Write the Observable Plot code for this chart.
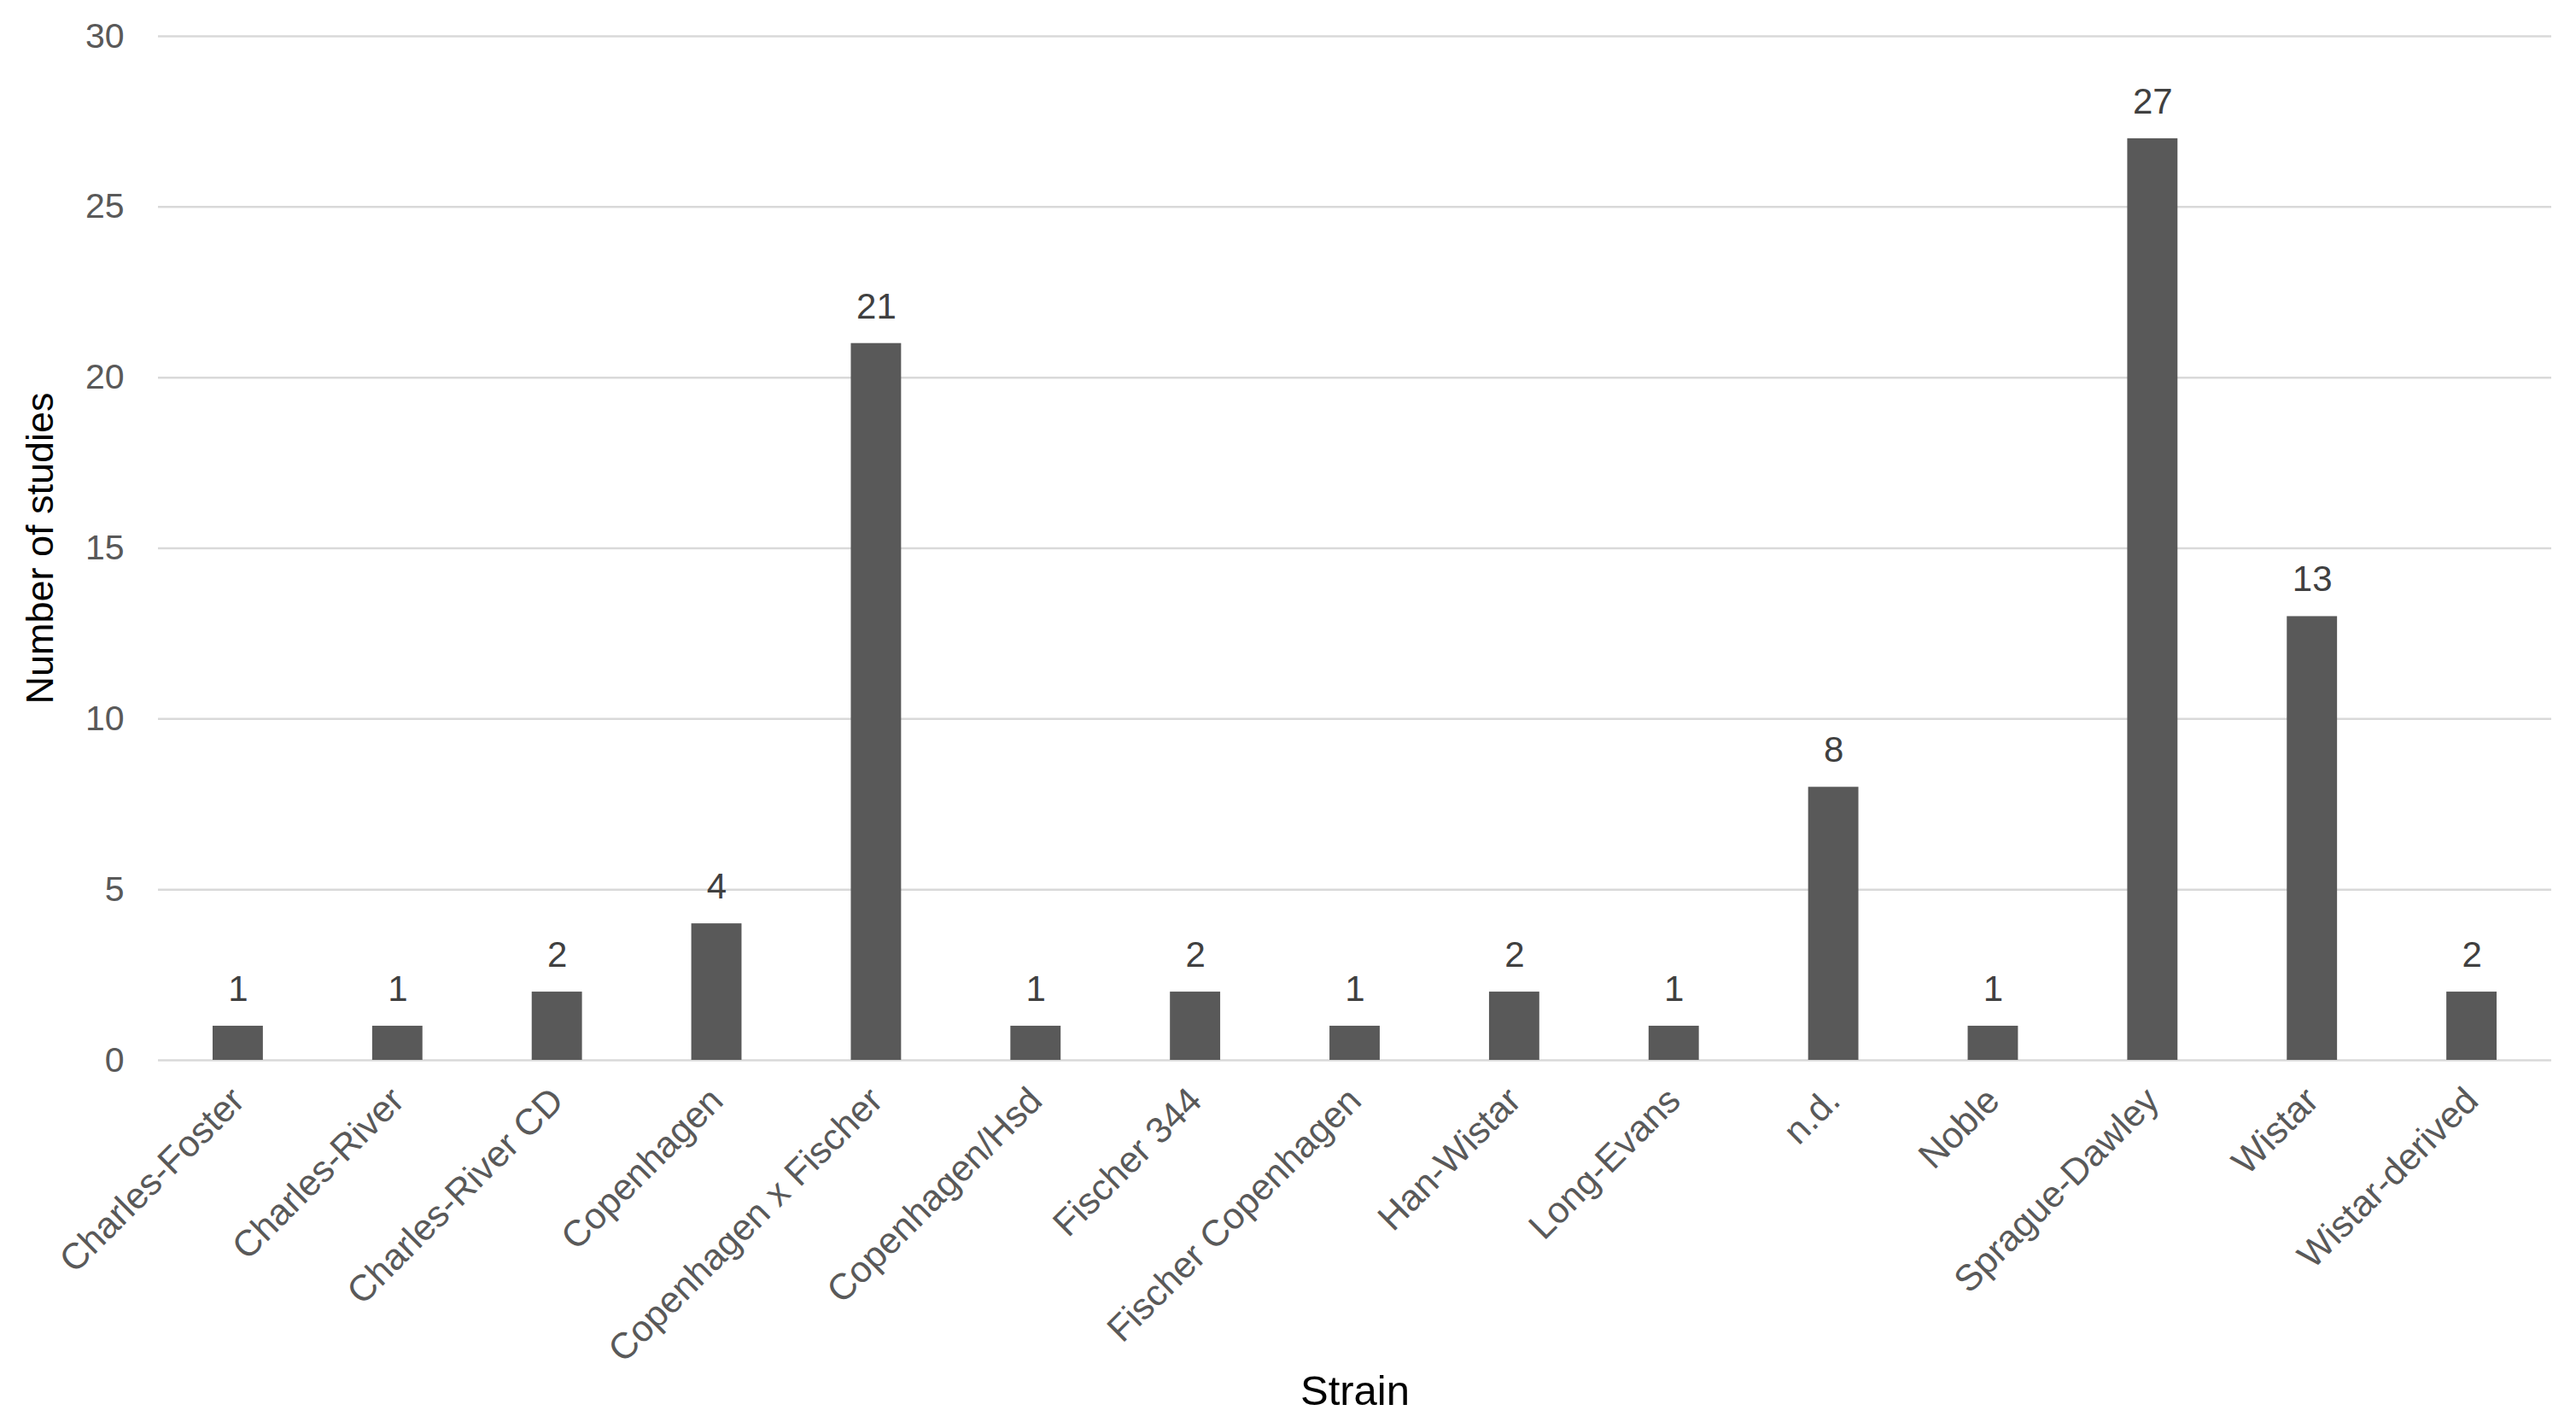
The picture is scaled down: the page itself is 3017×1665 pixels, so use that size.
<!DOCTYPE html>
<html>
<head>
<meta charset="utf-8">
<script src="https://cdn.jsdelivr.net/npm/d3@7"></script>
<script src="https://cdn.jsdelivr.net/npm/@observablehq/plot@0.6"></script>
<style>
  html, body { margin: 0; padding: 0; background: #ffffff; }
  svg { display: block; }
</style>
</head>
<body>
<div id="chart"></div>
<script>
const strains = ["Charles-Foster", "Charles-River", "Charles-River CD", "Copenhagen", "Copenhagen x Fischer", "Copenhagen/Hsd", "Fischer 344", "Fischer Copenhagen", "Han-Wistar", "Long-Evans", "n.d.", "Noble", "Sprague-Dawley", "Wistar", "Wistar-derived"];
const studies = [1, 1, 2, 4, 21, 1, 2, 1, 2, 1, 8, 1, 27, 13, 2];
const yTicks = [0, 5, 10, 15, 20, 25, 30];
const xTitle = "Strain";
const yTitle = "Number of studies";

const data = strains.map((s, i) => ({strain: s, n: studies[i]}));
const font = "'Liberation Sans', Arial, Helvetica, sans-serif";

const chart = Plot.plot({
  width: 3017,
  height: 1665,
  marginTop: 42,
  marginBottom: 424,
  marginLeft: 185,
  marginRight: 29,
  style: {fontFamily: font, background: "#ffffff"},
  x: {domain: strains, paddingInner: 0.685, paddingOuter: 0.3425, round: false, label: null},
  y: {domain: [0, 30], label: null},
  marks: [
    Plot.gridY(yTicks, {stroke: "#d9d9d9", strokeWidth: 2.5, strokeOpacity: 1}),
    Plot.barY(data, {x: "strain", y: "n", fill: "#595959"}),
    Plot.text(data, {x: "strain", y: "n", text: d => String(d.n), dy: -43, fontSize: 42, fill: "#404040"}),
    Plot.axisY({ticks: yTicks, tickSize: 0, tickPadding: 40, fontSize: 41, fill: "#595959", label: null}),
    Plot.axisX({tickSize: 0, tickPadding: 40, tickRotate: -45, fontSize: 43, fill: "#595959", label: null}),
    Plot.text([xTitle], {frameAnchor: "bottom", lineAnchor: "middle", dy: 388, fontSize: 49, fill: "#000000"}),
    Plot.text([yTitle], {frameAnchor: "left", textAnchor: "middle", lineAnchor: "middle", dx: -138, rotate: -90, fontSize: 45, fill: "#000000"})
  ]
});
document.getElementById("chart").appendChild(chart);
</script>
</body>
</html>
